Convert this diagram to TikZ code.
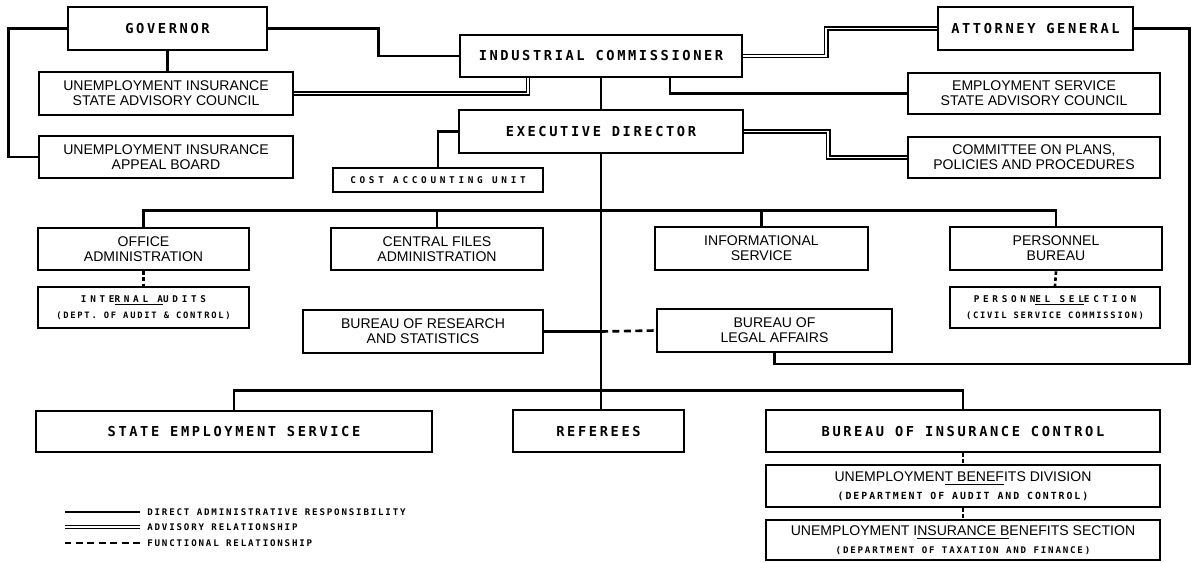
\documentclass[tikz,border=0pt]{standalone}
\usepackage{fontspec}
\newfontfamily\headfont{DejaVu Sans Mono}[LetterSpace=19]
\newfontfamily\plainfont{Liberation Sans}[LetterSpace=0]
\newfontfamily\smallfont{DejaVu Sans Mono}[LetterSpace=40]
\newfontfamily\tinyfont{DejaVu Sans Mono}[LetterSpace=20]
\newcommand{\subline}[1]{\tinyfont\bfseries\fontsize{#1}{7}\selectfont}

\begin{document}
\begin{tikzpicture}[x=0.02cm, y=-0.02cm,
box/.style={draw=black, line width=1.5pt, inner sep=0pt, align=center},
boxsize/.style 2 args={minimum width=#1*0.02cm, minimum height=#2*0.02cm},
head/.style={box, font=\headfont\bfseries\fontsize{7.8}{9}\selectfont},
plain/.style={box, font=\plainfont\fontsize{8}{8.5}\selectfont},
note/.style={box, line width=1.3pt, font=\smallfont\bfseries\fontsize{5.3}{9.5}\selectfont},
legend/.style={inner sep=0pt, anchor=west, font=\tinyfont\bfseries\fontsize{5.2}{6}\selectfont},
link/.style={line width=1.5pt},
advise/.style={line width=0.7pt, double=white, double distance=1.1pt},
func/.style={line width=1.5pt, dash pattern=on 4pt off 2.5pt},
dots/.style={line width=1.5pt, dash pattern=on 2pt off 1.5pt},
]
\useasboundingbox (0,0) rectangle (1193,562);

%Top row
\node[head, boxsize={199}{43}] (gov) at (167.5,28.5) {GOVERNOR};
\node[head, boxsize={282}{42}] (comm) at (601,56) {INDUSTRIAL COMMISSIONER};
\node[head, boxsize={195}{43}] (ag) at (1035.5,28.5) {ATTORNEY GENERAL};

%Councils and boards
\node[plain, boxsize={254}{43}] (uisac) at (166,93.5) {UNEMPLOYMENT INSURANCE\\STATE ADVISORY COUNCIL};
\node[plain, boxsize={254}{42}] (appeal) at (166,157) {UNEMPLOYMENT INSURANCE\\APPEAL BOARD};
\node[plain, boxsize={252}{41}] (essac) at (1034,93.5) {EMPLOYMENT SERVICE\\STATE ADVISORY COUNCIL};
\node[plain, boxsize={252}{41}] (plans) at (1034,157.5) {COMMITTEE ON PLANS,\\POLICIES AND PROCEDURES};

%Executive director
\node[head, boxsize={284}{43}] (ed) at (601,131.5) {EXECUTIVE DIRECTOR};
\node[note, boxsize={210}{24}] (cost) at (438,180) {COST ACCOUNTING UNIT};

%Staff units
\node[plain, boxsize={211}{42}] (office) at (143.5,249) {OFFICE\\ADMINISTRATION};
\node[plain, boxsize={212}{42}] (files) at (437,249) {CENTRAL FILES\\ADMINISTRATION};
\node[plain, boxsize={213}{43}] (info) at (761.5,248.5) {INFORMATIONAL\\SERVICE};
\node[plain, boxsize={212}{43}] (persb) at (1056,248.5) {PERSONNEL\\BUREAU};
\node[note, boxsize={211}{41}] (audits) at (143.5,307.5) {INTE\underline{RNAL A}UDITS\\\subline{5}(DEPT. OF AUDIT \& CONTROL)};
\node[note, boxsize={210}{41}] (persel) at (1055,307.5) {PERSONN\underline{EL SEL}ECTION\\\subline{5}(CIVIL SERVICE COMMISSION)};
\node[plain, boxsize={240}{43}] (research) at (423,331.5) {BUREAU OF RESEARCH\\AND STATISTICS};
\node[plain, boxsize={235}{43}] (legal) at (774.5,330.5) {BUREAU OF\\LEGAL AFFAIRS};

%Operating units
\node[head, boxsize={396}{41}] (ses) at (234,431.5) {STATE EMPLOYMENT SERVICE};
\node[head, boxsize={171}{42}] (refs) at (598.5,431) {REFEREES};
\node[head, boxsize={394}{42}] (bic) at (963,431) {BUREAU OF INSURANCE CONTROL};
\node[plain, boxsize={394}{42}, font=\plainfont\fontsize{8}{10}\selectfont] (ubd) at (963,486) {UNEMPLOYMEN\underline{T BENEF}ITS DIVISION\\\subline{5.6}(DEPARTMENT OF AUDIT AND CONTROL)};
\node[plain, boxsize={394}{40}, font=\plainfont\fontsize{8}{10}\selectfont] (uibs) at (963,540) {UNEMPLOYMENT I\underline{NSURANCE B}ENEFITS SECTION\\\subline{5.2}(DEPARTMENT OF TAXATION AND FINANCE)};

%Governor connections
\draw[link] (gov.west) -- ++(-58,0) |- (appeal.west);
\draw[link] (gov.south) -- (gov.south |- uisac.north);
\draw[link] (gov.east) -- ++(110,0) |- (comm.west);

%Commissioner connections
\draw[advise] (uisac.east) -| ([xshift=-1.46cm]comm.south);
\draw[advise] (comm.east) -- ++(83,0) |- (ag.west);
\draw[link] ([xshift=1.38cm]comm.south) |- (essac.west);
\draw[link] (comm.south) -- (ed.north);

%Executive director connections
\draw[advise] (ed.east) -- ++(84,0) |- (plans.west);
\draw[link] (ed.west) -| (cost.north);
\draw[link] (ed.south) -- (ed.south |- refs.north);

%Staff bus
\draw[link] (office.north) -- ++(0,-16) -| (persb.north);
\draw[link] (files.north) -- ++(0,-16);
\draw[link] (info.north) -- ++(0,-16);
\draw[dots] (office.south) -- (audits.north);
\draw[dots] (persb.south) -- (persel.north);

%Research and legal affairs
\draw[link] (research.east) -- (research.east -| ed.south);
\draw[func] (research.east -| ed.south) -- (legal.west);
\draw[link] (ag.east) -- ++(55,0) -- ++(0,335.5) -| (legal.south);

%Operating bus
\draw[link] (ses.north) -- ++(0,-19) -| (bic.north);
\draw[dots] (bic.south) -- (ubd.north);
\draw[dots] (ubd.south) -- (uibs.north);

%Legend
\node[legend] (lgdirect) at (147,512) {DIRECT ADMINISTRATIVE RESPONSIBILITY};
\node[legend] (lgadvise) at (147,527) {ADVISORY RELATIONSHIP};
\node[legend] (lgfunc) at (147,543) {FUNCTIONAL RELATIONSHIP};
\draw[link] ([xshift=-0.14cm]lgdirect.west) -- ++(-75,0);
\draw[advise] ([xshift=-0.14cm]lgadvise.west) -- ++(-75,0);
\draw[func] ([xshift=-0.14cm]lgfunc.west) -- ++(-75,0);
\end{tikzpicture}
\end{document}
